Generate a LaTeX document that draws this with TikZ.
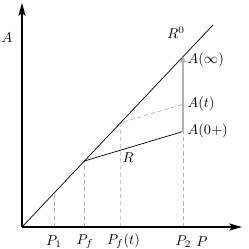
\documentclass[tikz,border=0pt]{standalone}
\usetikzlibrary{arrows.meta}
\begin{document}
\begin{tikzpicture}[x=0.7pt,y=-0.7pt,
  axis/.style={line width=1.2pt,-{Stealth[length=9pt,width=5pt,inset=2pt]}},
  thinline/.style={line width=0.5pt},
  guide/.style={gray!60,dashed,line width=0.5pt,dash pattern=on 3pt off 2pt},
  grayarrow/.style={gray!60,line width=1.5pt,-{Triangle[length=4pt,width=4.5pt]}},
  lab/.style={inner sep=1pt}]
\useasboundingbox (0,0) rectangle (249,249);
\coordinate (O) at (22,227);
\coordinate (Xend) at (242,227);
\coordinate (Yend) at (22,3);
\coordinate (Dend) at (213,25);
\coordinate (D1) at (54,193.1);
\coordinate (Df) at (84.3,161);
\coordinate (Dt) at (120.7,122.6);
\coordinate (Dinf) at (183,56.7);
\coordinate (A0) at (183,131.5);
\coordinate (At) at (183,104.3);
\coordinate (B1) at (54,227);
\coordinate (Bf) at (84.3,227);
\coordinate (Bt) at (120.7,227);
\coordinate (B2) at (183,227);
% guides
\draw[guide] (B1) -- (D1);
\draw[guide] (Bf) -- (Df);
\draw[guide] (Bt) -- (Dt) -- (At);
\draw[guide] (B2) -- (A0);
% lines
\draw[thinline] (O) -- (Dend);
\draw[thinline] (Df) -- (A0);
\draw[grayarrow] (A0) -- (Dinf);
% axes
\draw[axis] (O) -- (Xend);
\draw[axis] (O) -- (Yend);
% labels
\node[lab] (lA) at (7,38) {$A$};
\node[lab] (lP) at (202,241.5) {$P$};
\node[lab] (lP1) at (54,241.5) {$P_1$};
\node[lab] (lPf) at (85,241.5) {$P_f$};
\node[lab] (lPt) at (123.5,241.5) {$P_f(t)$};
\node[lab] (lP2) at (183.5,241.5) {$P_2$};
\node[lab] (lR0) at (176,33) {$R^0$};
\node[lab] (lR) at (128,158) {$R$};
\node[lab,anchor=west] (lAinf) at (186,59.5) {$A(\infty)$};
\node[lab,anchor=west] (lAt) at (186,104) {$A(t)$};
\node[lab,anchor=west] (lA0) at (186,131) {$A(0+)$};
\end{tikzpicture}
\end{document}
